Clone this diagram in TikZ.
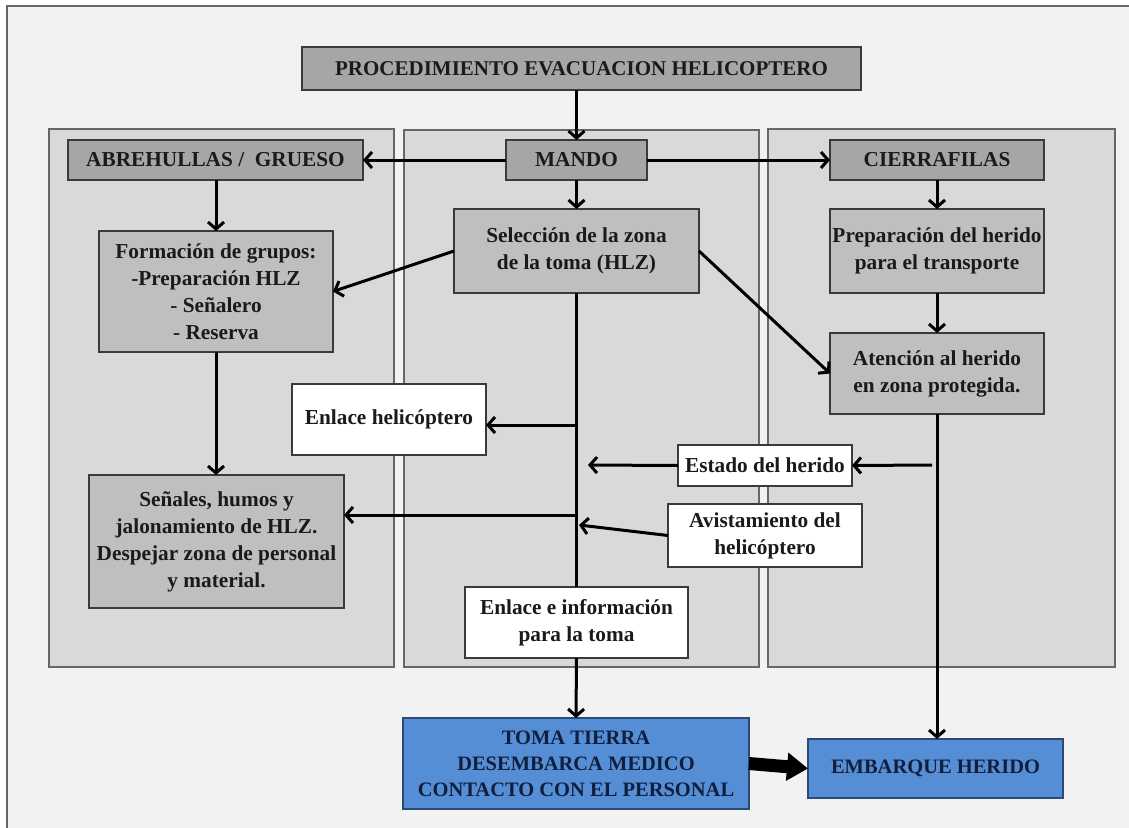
\documentclass[tikz,border=0pt]{standalone}
\usepackage{fontspec}
\setmainfont{Liberation Serif}
\usetikzlibrary{arrows.meta}
\definecolor{pagebg}{HTML}{F2F2F2}
\definecolor{panelbg}{HTML}{D9D9D9}
\definecolor{panelline}{HTML}{666666}
\definecolor{darkfill}{HTML}{A6A6A6}
\definecolor{midfill}{HTML}{BFBFBF}
\definecolor{boxline}{HTML}{3A3A3A}
\definecolor{txt}{HTML}{1A1A1A}
\definecolor{bluefill}{HTML}{558ED5}
\definecolor{blueline}{HTML}{2A4A7A}
\definecolor{bluetxt}{HTML}{0F1F3D}
\begin{document}
\begin{tikzpicture}[x=1pt,y=-1pt,
  every node/.style={inner sep=0pt, outer sep=0pt, align=center, text=txt,
    font=\fontsize{21.3}{27}\selectfont\bfseries},
  box/.style={draw=boxline, line width=1.2pt, minimum width=#1},
  darkbox/.style={box=#1, fill=darkfill},
  midbox/.style={box=#1, fill=midfill},
  whitebox/.style={box=#1, fill=white},
  bluebox/.style={draw=blueline, line width=1.2pt, fill=bluefill, text=bluetxt,
    minimum width=#1, font=\fontsize{20.5}{26}\selectfont\bfseries},
  panel/.style={draw=panelline, line width=1.5pt, fill=panelbg},
  flow/.style={line width=3pt, black, -{Straight Barb[length=7pt,width=16pt]}},
  trunk/.style={line width=3pt, black},
  bigarrow/.style={line width=13pt, black, -{Triangle[length=21pt,width=27pt]}}]
\useasboundingbox (0,0) rectangle (1129,827);
\fill[white] (0,0) rectangle (1129,827);
% outer sheet, open to the right and bottom
\begin{scope}
  \clip (0,0) rectangle (1129,827);
  \draw[fill=pagebg, draw=panelline, line width=1.5pt] (7,6) rectangle (1145,845);
\end{scope}
% three columns
\draw[panel] (49,129) rectangle (394,667);
\draw[panel] (404,130) rectangle (759,667);
\draw[panel] (768,129) rectangle (1115,667);

% header row
\node[darkbox=559, minimum height=43, font=\fontsize{21}{26}\selectfont\bfseries] (title) at (581.5,68.5) {PROCEDIMIENTO EVACUACION HELICOPTERO};
\node[darkbox=141, minimum height=40] (mando) at (576.5,160) {MANDO};
\node[darkbox=295, minimum height=40] (abre) at (215.5,160) {ABREHULLAS /\ \ GRUESO};
\node[darkbox=214, minimum height=40] (cierra) at (937,160) {CIERRAFILAS};

% left column
\node[midbox=234, minimum height=121] (form) at (216,291.5) {Formación de grupos:\\-Preparación HLZ\\- Señalero\\- Reserva};
\node[midbox=255, minimum height=133] (sen) at (216.5,541.5) {Señales, humos y\\jalonamiento de HLZ.\\Despejar zona de personal\\y material.};

% middle column
\node[midbox=245, minimum height=84] (sel) at (576.5,251) {Selección de la zona\\de la toma (HLZ)};
\node[whitebox=194, minimum height=71] (enh) at (389,419.5) {Enlace helicóptero};
\node[whitebox=223, minimum height=71] (eni) at (576.5,622.5) {Enlace e información\\para la toma};

% right column
\node[midbox=214, minimum height=84] (prep) at (937,251) {Preparación del herido\\para el transporte};
\node[midbox=214, minimum height=81] (aten) at (937,373.5) {Atención al herido\\en zona protegida.};
\node[whitebox=174, minimum height=41] (est) at (765,465.5) {Estado del herido};
\node[whitebox=194, minimum height=63] (avi) at (765,535.5) {Avistamiento del\\helicóptero};

% landing
\node[bluebox=346, minimum height=91] (toma) at (576,763.5) {TOMA TIERRA\\DESEMBARCA MEDICO\\CONTACTO CON EL PERSONAL};
\node[bluebox=255, minimum height=59] (emb) at (935.5,768.5) {EMBARQUE HERIDO};

% junctions on the vertical lines
\coordinate (b1) at (577,425);
\coordinate (b2) at (932,465);
\coordinate (b3) at (577,515);
\coordinate (e1) at (588,465);
\coordinate (a1) at (579,525);

% connectors
\draw[flow] (mando.north |- title.south) -- (mando.north);
\draw[flow] (mando.west) -- (abre.east);
\draw[flow] (mando.east) -- (cierra.west);
\draw[flow] (abre.south -| form.north) -- (form.north);
\draw[flow] (mando.south) -- (sel.north);
\draw[flow] (sel.west) -- (form.east);
\draw[flow] (sel.east) -- (aten.west);
\draw[flow] (cierra.south) -- (prep.north);
\draw[flow] (prep.south) -- (aten.north);
\draw[flow] (form.south) -- (form.south |- sen.north);
\draw[trunk] (sel.south) -- (eni.north);
\draw[flow] (b1) -- (b1 -| enh.east);
\draw[flow] (b3) -- (b3 -| sen.east);
\draw[flow] (est.west) -- (e1);
\draw[flow] (avi.west) -- (a1);
\draw[flow] (b2) -- (est.east);
\draw[flow] (eni.south) -- (toma.north);
\draw[flow] (aten.south) -- (aten.south |- emb.north);
\draw[bigarrow] (toma.east) -- (emb.west);
\end{tikzpicture}
\end{document}
